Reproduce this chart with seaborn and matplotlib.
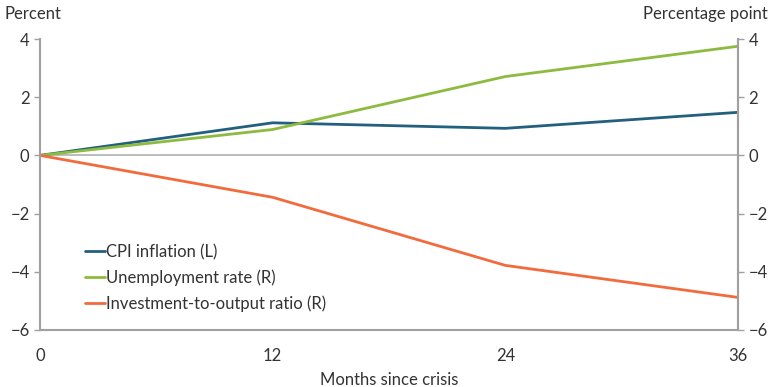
import matplotlib
matplotlib.use("Agg")
import matplotlib.pyplot as plt
import seaborn as sns
import pandas as pd

months = [0, 12, 24, 36]
cpi = [0, 1.12, 0.93, 1.48]
unemp = [0, 0.89, 2.71, 3.75]
invest = [0, -1.44, -3.78, -4.88]
series_names = ["CPI inflation (L)", "Unemployment rate (R)", "Investment-to-output ratio (R)"]
colors = ["#23607f", "#8dbb3f", "#f26b3c"]

sns.set_style("white")
plt.rcParams["font.family"] = ["Lato", "DejaVu Sans"]

df = pd.DataFrame({
    "Months": months * 3,
    "Value": cpi + unemp + invest,
    "Series": [series_names[0]] * 4 + [series_names[1]] * 4 + [series_names[2]] * 4,
})

fig = plt.figure(figsize=(7.73, 3.87), dpi=100)
ax = fig.add_axes([40 / 773, 1 - 330 / 387, (738 - 40) / 773, (330 - 39) / 387])
sns.lineplot(data=df, x="Months", y="Value", hue="Series", palette=colors,
             linewidth=2, ax=ax, legend=True)
ax.axhline(0, color="#b0b0b0", linewidth=1.2, zorder=0)

fs = 12
ax.set_xlim(0, 36)
ax.set_ylim(-6, 4)
ax.set_xticks(months)
ax.set_yticks([-6, -4, -2, 0, 2, 4])
ax.set_xlabel("Months since crisis", fontsize=fs, color="#333333", labelpad=6)
ax.set_ylabel("")

grey = "#a0a0a0"
ax.spines["top"].set_visible(False)
for s in ["left", "right", "bottom"]:
    ax.spines[s].set_color(grey)
    ax.spines[s].set_linewidth(1.5)
ax.tick_params(axis="both", direction="out", length=4, color=grey, width=1,
               labelsize=fs, labelcolor="#333333")
ax.tick_params(axis="x", pad=9)

ax2 = ax.twinx()
ax2.set_ylim(-6, 4)
ax2.set_yticks([-6, -4, -2, 0, 2, 4])
for s in ["top", "left", "bottom"]:
    ax2.spines[s].set_visible(False)
ax2.spines["right"].set_color(grey)
ax2.spines["right"].set_linewidth(1.5)
ax2.tick_params(axis="y", direction="out", length=4, color=grey, width=1,
                labelsize=fs, labelcolor="#333333")

fig.text(5 / 773, 1 - 14 / 387, "Percent", fontsize=fs, color="#333333", va="center", ha="left")
fig.text(768 / 773, 1 - 14 / 387, "Percentage point", fontsize=fs, color="#333333", va="center", ha="right")

leg = ax.legend(loc="upper left", bbox_to_anchor=(0.064, 0.2955), frameon=False,
                fontsize=fs, handlelength=1.2, handletextpad=0.05,
                labelspacing=0.57, borderaxespad=0, borderpad=0)
for t in leg.get_texts():
    t.set_color("#333333")

fig.savefig("out.png", dpi=100)
